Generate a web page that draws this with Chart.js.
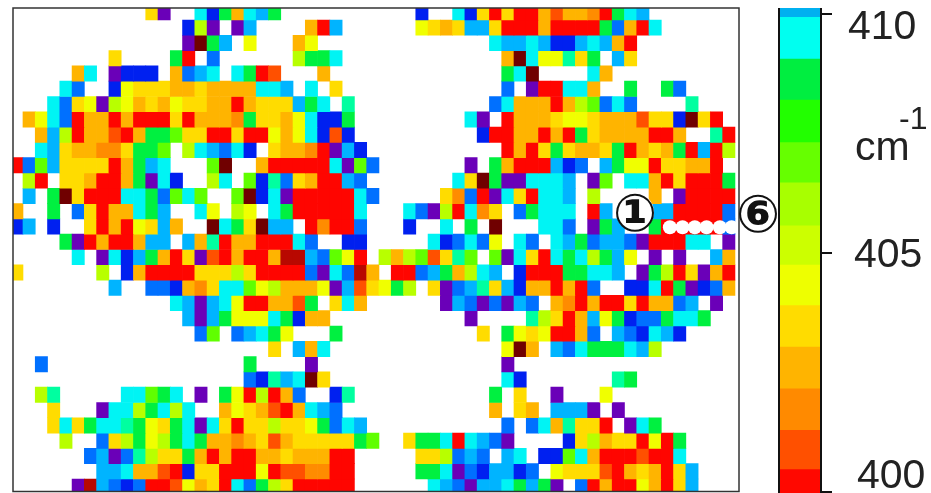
<!DOCTYPE html>
<html>
<head>
<meta charset="utf-8">
<title>Wavenumber map</title>
<script src="https://cdn.jsdelivr.net/npm/chart.js@4"></script>
<style>
  body { margin: 0; background: #fff; }
  canvas { position: absolute; top: 0; }
</style>
</head>
<body>
<canvas id="mapChart" width="931" height="493" style="left:0"></canvas>
<canvas id="barChart" width="161" height="493" style="left:770px"></canvas>
<script>
// One letter per level, lowest wavenumber first; '.' means no data in that cell
const levelCodes = ['m', 'd', 'r', 'n', 'O', 'a', 'o', 'Y', 'y', 'G', 'g', 't', 'c', 'l', 'B', 'b', 'v'];
const levelColors = ['#700000', '#b80800', '#ff0500', '#ff5000', '#ff8c00', '#ffb400', '#ffdc00', '#f0ff00', '#b8ff00',
  '#60ff00', '#00f040', '#00ffa0', '#00f4f4', '#00b4ff', '#0070ff', '#0020f0', '#6a00b8'];

// Map cells, top row first
const cellRows = [
  '...........ov..cbgaclg........' + '...b..cbororranaaOrgcl.......',
  '..............byv.vl....arl...' + '...Yoaollorrrarrrr' + 'gBarc......',
  '..............vmgl.Y...aY.....' + '.........cllclbblclar........',
  '........o....gr.B......yggc...' + '..........amcYYtog.lo........',
  '.....ac.vbbb.aBlc.cgrn...a....' + '..........gcm....ca..........',
  '....cB..bYoooaaoaaaaccl.c.o...' + '..........B.vrrcca..g..gB....',
  '...cBoYvyYaoaYooaaraooolgc.t..' + '.........BcaaarayGBcB....t...',
  '.aYcBraararrroraaaOgooaYcbbg..' + '.......cv.raaaoYYoaaanoobmor.',
  '..alyraanraggGoorrorrYaYcbnb..' + '........brraarargoaaaarra..tr',
  '..cloaaOOoggG.yclBcb.oaaOrvlb.' + '..........rarogoaaograoagrlry',
  'rBGlooooraglc...Gm..arrrrrcvGB' + '.......v.garrrlbB.lgYYrooaar.',
  '.yr.ooarragvcb..yc.GbtBoarrlB.' + '......comgvvcccl.vG.ccarorrrg',
  '.l.gmorrrccgBGcG..GmbcvrrrrrcB' + '.....oOBrvcorccl.y....a.vrrrr',
  'a..g.Boraacgl..cY.yY.cgrrrrrc.' + '..cBvyrcOo.Bgccc.rl...llrrrrB',
  'bl.b..orarYola..mcgomll.rOrrB.' + '..b..c.g.m...ccB.vgl..grrrrrB',
  '....gvrarrall.latraarrrcB..bb.' + '....cbBcBY.cB.clgBllBvrrrcc.v',
  '.....c.vcblgarovnrarraddlBGYr.' + 'yayGnotG.GvcorcgcyglY.v.v..la',
  'o......y.barrrroooyorrrrBvcBda' + '.rrBlgaycl.brrrggccl.vgyrovar',
  '........l..BBbaOoccGYyaaaYvlno' + 'Ygy.ovBltolbaararB..bbcrgvbBa',
  '.............clvlcYrraang.oca.' + '.....vlBvBvlB.aOrarroraaBl.v.',
  '..............lvlgYYYcgbaa....' + '.......v....tyoralYgbBBgccg..',
  '...............BG.BlcgY...g...' + '........o.gYoYrraB.lBbclb....',
  '.....................o.lac....' + '..........Yma.lBcgggcly......',
  '..B................g....v.....' + '..........v..................',
  '...................Bbtlcmo....' + '..........cb.......tg........',
  '..yt.....ccGgc.v.gYryraB..bt..' + '.........g.o..v...Y..........',
  '...o...vccygcyc..aYoanraclB...' + '.........a.oa.lllv.v.........',
  '...ocogcctgYogcvcorooyooYgBcl.' + '..........B.Bcatoor.vcg......',
  '....y..BoygYygcgaaOaonaooooogG' + '..oggcrclBv....boyaoorYrg....',
  '......BlvBtyoogararraaoaaarr..' + '...ooyBlB.lc.bbGcarrrnrrc....',
  '.......llcaanrboorrrYrnnOOrr..' + '...ggcvBbllbB.Yooonraoarol...',
  '.....vdlBbBrrnYaorcBgyorrrrr..' + '....clBvllcglgv.BrarrYarol...'
];

// The six numbered points on the map, in cell units
const dotX = [53.7, 54.73, 55.73, 56.69, 57.77, 58.73];
const dotY = [14.55, 14.55, 14.55, 14.55, 14.55, 14.55];

// Colour bar
const bandEdges = [399.98, 400.47, 401.29, 402.16, 403.03, 403.9, 404.75, 405.57, 406.47, 407.31, 408.2, 409.06, 409.93, 410.13];
const bandColors = ['#ff0800', '#ff5000', '#ff8a00', '#ffb400', '#ffdc00', '#eeff00', '#ccff00', '#a8ff00', '#66ff00',
  '#22ff00', '#00ee40', '#00fff0', '#00b0f0'];
const barTicks = [400, 405, 410];
const barUnit = 'cm';
const barUnitPower = '-1';
const dotLabels = ['①', '⑥'];

// One floating bar per filled cell, one dataset per row
const rowDatasets = cellRows.map((row, rowIndex) => {
  const data = [];
  const colors = [];
  row.split('').forEach((code, col) => {
    if (code === '.') return;
    data.push({ x: col + 0.5, y: [rowIndex, rowIndex + 1] });
    colors.push(levelColors[levelCodes.indexOf(code)]);
  });
  return { data: data, backgroundColor: colors, borderWidth: 0, barPercentage: 1, categoryPercentage: 1, grouped: false, order: 2 };
});

const dotDataset = {
  type: 'scatter',
  data: dotX.map((x, i) => ({ x: x, y: dotY[i] })),
  backgroundColor: '#fff',
  borderWidth: 0,
  pointRadius: 7,
  order: 1
};

// Frame round the plot and the two circled labels beside the dots
const mapDecor = {
  id: 'mapDecor',
  afterDraw(chart) {
    const { ctx, chartArea: a } = chart;
    ctx.save();
    ctx.strokeStyle = '#333';
    ctx.lineWidth = 1.5;
    ctx.strokeRect(a.left, a.top, a.right - a.left, a.bottom - a.top);
    // white disc behind the first label, it sits on top of the cells
    ctx.fillStyle = '#fff';
    ctx.beginPath();
    ctx.arc(635, 212, 19, 0, Math.PI * 2);
    ctx.fill();
    ctx.fillStyle = '#111';
    ctx.font = 'bold 52px "DejaVu Sans"';
    ctx.textAlign = 'center';
    ctx.textBaseline = 'middle';
    ctx.fillText(dotLabels[0], 635, 217);
    ctx.fillText(dotLabels[1], 758, 218);
    ctx.restore();
  }
};

new Chart(document.getElementById('mapChart'), {
  type: 'bar',
  data: { datasets: [...rowDatasets, dotDataset] },
  options: {
    responsive: false,
    animation: false,
    layout: { autoPadding: false, padding: { left: 13, top: 8, right: 192, bottom: 1.5 } },
    plugins: { legend: { display: false }, tooltip: { enabled: false } },
    scales: {
      x: { type: 'linear', display: false, offset: false, min: 0.187, max: 59.33 },
      y: { type: 'linear', display: false, reverse: true, min: 0.216, max: 31.82 }
    }
  },
  plugins: [mapDecor]
});

// Tick labels and unit for the colour bar
const barDecor = {
  id: 'barDecor',
  afterDraw(chart) {
    const { ctx, chartArea: a } = chart;
    ctx.save();
    ctx.strokeStyle = '#111';
    ctx.lineWidth = 2;
    ctx.beginPath();
    ctx.moveTo(a.left, a.top);
    ctx.lineTo(a.left, a.bottom);
    ctx.moveTo(a.right, a.top);
    ctx.lineTo(a.right, a.bottom);
    ctx.stroke();
    ctx.fillStyle = '#222';
    ctx.font = '41px "Liberation Sans"';
    ctx.textBaseline = 'middle';
    ctx.textAlign = 'left';
    ctx.fillText(String(barTicks[2]), 78, 28);
    ctx.fillText(String(barTicks[1]), 84, 256);
    ctx.fillText(String(barTicks[0]), 87, 477);
    ctx.fillText(barUnit, 85, 149);
    ctx.font = '32px "Liberation Sans"';
    ctx.fillText(barUnitPower, 129, 120);
    ctx.restore();
  }
};

new Chart(document.getElementById('barChart'), {
  type: 'bar',
  data: {
    labels: [''],
    datasets: bandColors.map((color, i) => ({
      data: [[bandEdges[i], bandEdges[i + 1]]],
      backgroundColor: color,
      borderWidth: 0,
      barPercentage: 1,
      categoryPercentage: 1,
      grouped: false
    }))
  },
  options: {
    responsive: false,
    animation: false,
    layout: { padding: { left: 9, top: 8, right: 0, bottom: 0 } },
    plugins: { legend: { display: false }, tooltip: { enabled: false } },
    scales: {
      x: { display: false },
      y: {
        position: 'right',
        min: 399.98,
        max: 410.126,
        afterBuildTicks: axis => { axis.ticks = barTicks.map(v => ({ value: v })); },
        afterFit: axis => { axis.width = 110; },
        ticks: { display: false },
        border: { display: false },
        grid: { drawOnChartArea: false, drawTicks: true, tickLength: 11, color: '#111', lineWidth: 2 }
      }
    }
  },
  plugins: [barDecor]
});
</script>
</body>
</html>
